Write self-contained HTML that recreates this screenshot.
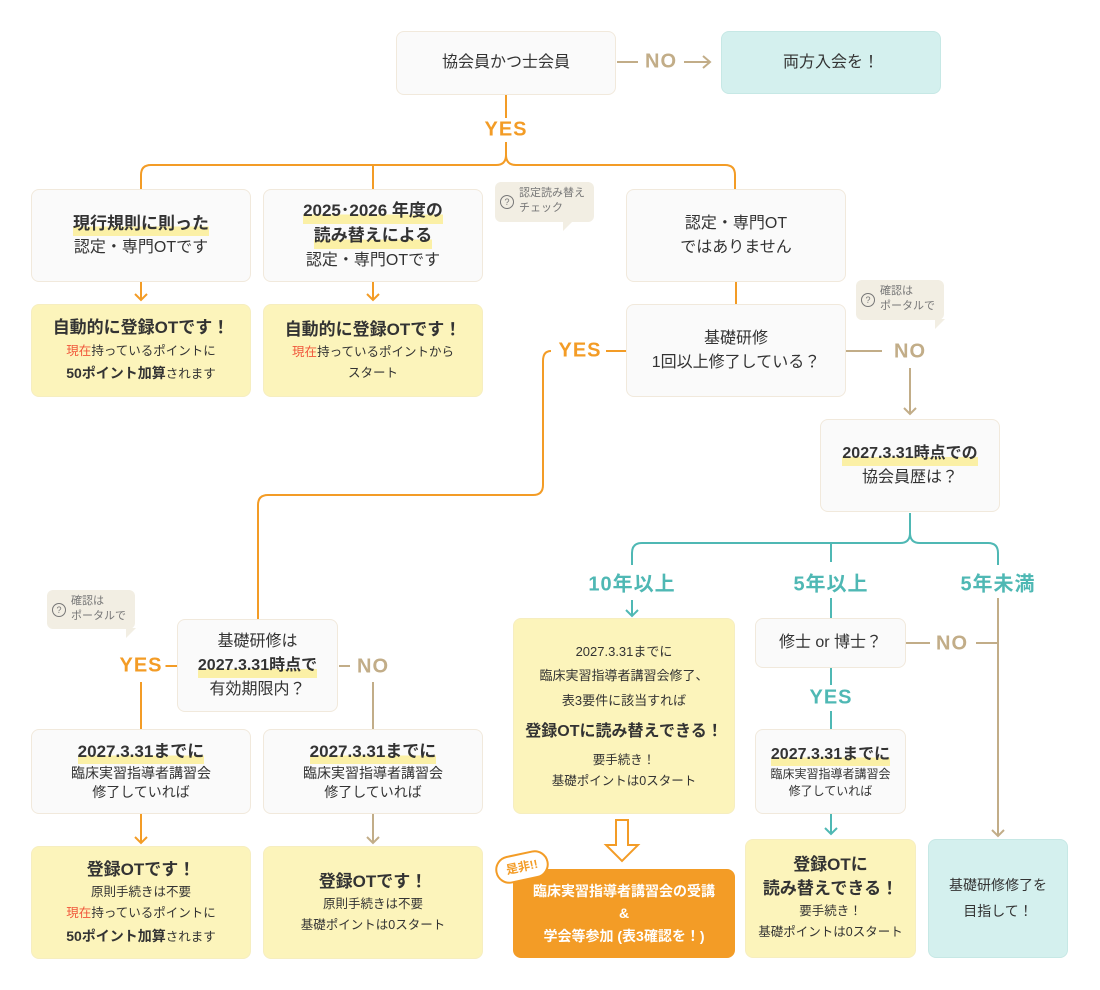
<!DOCTYPE html>
<html><head><meta charset="utf-8"><style>
body{margin:0;width:1100px;height:990px;background:#fff;position:relative;overflow:hidden;font-family:"Liberation Sans","Noto Sans CJK JP",sans-serif;color:#333}
.b{position:absolute;box-sizing:border-box;border:1px solid #f1e9dc;border-radius:8px;background:#fafafa;display:flex;flex-direction:column;align-items:center;justify-content:center;text-align:center;font-size:16px;line-height:1.5}
.y{background:#fcf4bb;border-color:#f6eec0}
.t{background:#d4f0ee;border-color:#c6e8e5}
.o{background:#f39c26;border-color:#f39c26;color:#fff;font-weight:bold;font-size:14px}
.h{font-weight:bold;font-size:17px;background:linear-gradient(transparent 62%,#fbf0a6 62%)}
.bb{font-weight:bold;font-size:17px}
.s{font-size:12.5px;line-height:1.7}
.r{color:#f0563a}
.lab{position:absolute;font-size:20px;font-weight:bold;transform:translate(-50%,-50%);background:#fff;padding:0 3px;letter-spacing:1px}
.og{color:#f39c26}.tn{color:#c2ad88}.tl{color:#4fb8b4}
.bub{position:absolute;background:#f2eee3;border-radius:6px;font-size:11px;color:#777;line-height:1.35;padding:4px 6px 4px 24px;box-sizing:border-box}
.bub:before{content:"?";position:absolute;left:5px;top:50%;margin-top:-7px;width:12px;height:12px;border:1px solid #777;border-radius:50%;font-size:9px;text-align:center;line-height:12px}
.bub:after{content:"";position:absolute;bottom:-9px;border:5px solid transparent;border-top:5px solid #f2eee3;border-left-color:#f2eee3}
</style></head><body>
<svg width="1100" height="990" style="position:absolute;left:0;top:0" fill="none" stroke-width="2">
<g stroke="#c2ad88">
<path d="M617 62H638M684 62H710"/><path d="M703 56l7 6-7 6"/>
<path d="M846 351H882M910 368V414"/><path d="M904 408l6 6 6-6"/>
<path d="M906 643H930M976 643H998M998 598V836"/><path d="M992 830l6 6 6-6"/>
<path d="M339 666H350M373 682V729M373 814V843"/><path d="M367 837l6 6 6-6"/>
</g>
<g stroke="#f39c26">
<path d="M506 95V118M506 142V155Q506 165 496 165H151Q141 165 141 175V189"/>
<path d="M506 155Q506 165 516 165H725Q735 165 735 175V189"/>
<path d="M373 165V189"/>
<path d="M141 282V300M373 282V300M736 282V304"/><path d="M135 294l6 6 6-6M367 294l6 6 6-6"/>
<path d="M626 351H606M551 351Q543 351 543 361V485Q543 495 533 495H268Q258 495 258 505V619"/>
<path d="M177 666H165M141 682V729M141 814V843"/><path d="M135 837l6 6 6-6"/>
</g>
<g stroke="#4fb8b4">
<path d="M910 513V533Q910 543 900 543H642Q632 543 632 553V565M831 543V562M910 533Q910 543 920 543H988Q998 543 998 553V565"/>
<path d="M632 600V616M626 610l6 6 6-6"/>
<path d="M831 598V618M831 668V685M831 711V729M831 814V834"/><path d="M825 828l6 6 6-6"/>
</g>
<path d="M616 820H628V845H638L622 861L606 845H616Z" stroke="#f39c26" stroke-width="2" fill="#fff"/>
</svg>
<div class="b" style="left:396px;top:31px;width:220px;height:64px">協会員かつ士会員</div>
<div class="b t" style="left:721px;top:31px;width:220px;height:63px">両方入会を！</div>
<div class="lab tn" style="left:661px;top:62px">NO</div>
<div class="lab og" style="left:506px;top:130px">YES</div>
<div class="b" style="left:31px;top:189px;width:220px;height:93px"><span class="h">現行規則に則った</span><span>認定・専門OTです</span></div>
<div class="b" style="left:263px;top:189px;width:220px;height:93px;line-height:1.45"><span class="h">2025･2026 年度の</span><span class="h">読み替えによる</span><span>認定・専門OTです</span></div>
<div class="bub" style="left:495px;top:182px;width:99px;height:40px">認定読み替え<br>チェック</div>
<div class="b" style="left:626px;top:189px;width:220px;height:93px">認定・専門OT<br>ではありません</div>
<div class="b y" style="left:31px;top:304px;width:220px;height:93px"><span class="bb">自動的に登録OTです！</span><span class="s"><span class="r">現在</span>持っているポイントに<br><b style="font-size:14px">50ポイント加算</b>されます</span></div>
<div class="b y" style="left:263px;top:304px;width:220px;height:93px"><span class="bb">自動的に登録OTです！</span><span class="s"><span class="r">現在</span>持っているポイントから<br>スタート</span></div>
<div class="b" style="left:626px;top:304px;width:220px;height:93px">基礎研修<br>1回以上修了している？</div>
<div class="lab og" style="left:580px;top:351px">YES</div>
<div class="lab tn" style="left:910px;top:352px">NO</div>
<div class="bub" style="left:856px;top:280px;width:88px;height:40px">確認は<br>ポータルで</div>
<div class="b" style="left:820px;top:419px;width:180px;height:93px"><span class="h" style="font-size:16px">2027.3.31時点での</span><span>協会員歴は？</span></div>
<div class="lab tl" style="left:632px;top:582px">10年以上</div>
<div class="lab tl" style="left:831px;top:582px">5年以上</div>
<div class="lab tl" style="left:998px;top:582px">5年未満</div>
<div class="bub" style="left:47px;top:590px;width:88px;height:39px">確認は<br>ポータルで</div>
<div class="b" style="left:177px;top:619px;width:161px;height:93px"><span>基礎研修は</span><span class="h" style="font-size:16px">2027.3.31時点で</span><span>有効期限内？</span></div>
<div class="lab og" style="left:141px;top:666px">YES</div>
<div class="lab tn" style="left:373px;top:667px">NO</div>
<div class="b" style="left:31px;top:729px;width:220px;height:85px;line-height:1.35"><span class="h">2027.3.31までに</span><span style="font-size:14px">臨床実習指導者講習会<br>修了していれば</span></div>
<div class="b" style="left:263px;top:729px;width:220px;height:85px;line-height:1.35"><span class="h">2027.3.31までに</span><span style="font-size:14px">臨床実習指導者講習会<br>修了していれば</span></div>
<div class="b y" style="left:31px;top:846px;width:220px;height:113px"><span class="bb">登録OTです！</span><span class="s">原則手続きは不要<br><span class="r">現在</span>持っているポイントに<br><b style="font-size:14px">50ポイント加算</b>されます</span></div>
<div class="b y" style="left:263px;top:846px;width:220px;height:113px"><span class="bb">登録OTです！</span><span class="s">原則手続きは不要<br>基礎ポイントは0スタート</span></div>
<div class="b y" style="left:513px;top:618px;width:222px;height:196px;font-size:13px;line-height:1.9"><span>2027.3.31までに<br>臨床実習指導者講習会修了、<br>表3要件に該当すれば</span><span class="bb" style="font-size:16px;margin:3px 0">登録OTに読み替えできる！</span><span class="s">要手続き！<br>基礎ポイントは0スタート</span></div>
<div class="b o" style="left:513px;top:869px;width:222px;height:89px;line-height:1.6">臨床実習指導者講習会の受講<br>&amp;<br>学会等参加 (表3確認を！)</div>
<div style="position:absolute;left:495px;top:853px;width:50px;height:24px;border:2px solid #f39c26;border-radius:14px;background:#fff;color:#f39c26;font-size:12px;font-weight:bold;text-align:center;line-height:24px;transform:rotate(-12deg)">是非!!</div>
<div class="b" style="left:755px;top:618px;width:151px;height:50px">修士 or 博士？</div>
<div class="lab tn" style="left:952px;top:644px">NO</div>
<div class="lab tl" style="left:831px;top:698px">YES</div>
<div class="b" style="left:755px;top:729px;width:151px;height:85px;line-height:1.4"><span class="h" style="font-size:16px">2027.3.31までに</span><span style="font-size:12px">臨床実習指導者講習会<br>修了していれば</span></div>
<div class="b y" style="left:745px;top:839px;width:171px;height:119px;line-height:1.4"><span class="bb">登録OTに<br>読み替えできる！</span><span class="s">要手続き！<br>基礎ポイントは0スタート</span></div>
<div class="b t" style="left:928px;top:839px;width:140px;height:119px;font-size:14px;line-height:1.8">基礎研修修了を<br>目指して！</div>
</body></html>
